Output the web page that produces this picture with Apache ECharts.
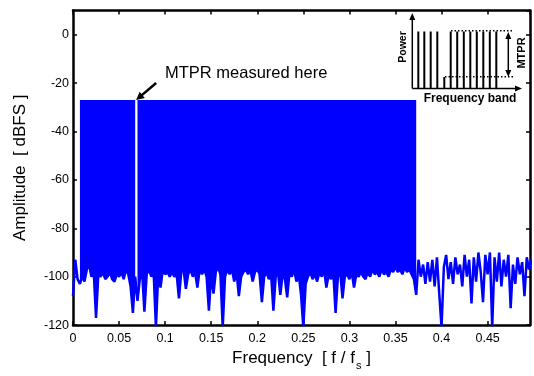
<!DOCTYPE html>
<html><head><meta charset="utf-8">
<script src="https://cdn.jsdelivr.net/npm/echarts@6/dist/echarts.min.js"></script>
<style>html,body{margin:0;padding:0;background:#fff}#c{width:534px;height:376px}</style>
</head><body><div id="c"></div>
<script>
// ---- data ----
const freqStep = 0.0025;              // frequency bin spacing [f/fs]
const floorDb = [
 -108, -93, -101, -103, -100, -102, -97, -95, -100, -98,
 -117, -99, -100, -98, -101, -100, -98, -101, -102, -99,
 -100, -98, -101, -97, -99, -104, -115, -100, -110, -101,
 -98, -114.5, -99, -97, -100, -98, -121, -99, -104.5, -97,
 -99, -98, -100, -98, -100, -99, -109, -98, -97, -105,
 -99, -97, -100, -98, -104.5, -97, -99, -97, -100, -114,
 -99, -107, -98, -96, -99, -121, -100, -97, -99, -97,
 -102, -98, -108, -100, -98, -97, -99, -97, -102, -98,
 -97, -99, -110.5, -100, -98, -101, -99, -114, -100, -98,
 -107.5, -99, -101, -108.5, -98, -100, -97, -102, -99, -107.5,
 -121, -103, -100, -98, -101, -99, -102, -98, -100, -97,
 -104.5, -99, -101, -98, -115, -100, -98, -109, -100, -99,
 -101, -98, -104.5, -99, -100, -98, -100, -101, -98, -100,
 -97, -99, -98, -100, -97, -99, -98, -100, -97, -98,
 -96, -98, -97, -99, -96, -98, -97, -99, -101, -107.5,
 -93, -100, -95, -103, -94, -102, -93, -104, -92, -107,
 -121, -96, -91, -101, -94, -103, -92, -99, -95, -104,
 -91, -100, -93, -111, -92, -102, -90, -98, -110.5, -91,
 -99, -90, -121, -92, -102, -90, -104, -93, -100, -91,
 -113, -95, -103, -92, -99, -94, -108, -92, -97, -93
];
const toneLevel = -27;                 // level of the multitone comb [dBFS]
const bandStart = 0.0075;              // first tone of the band
const bandEnd = 0.3725;                // last tone of the band
const gapFreq = 0.0685;                // empty tone slot where MTPR is measured
const xTickValues = [0, 0.05, 0.1, 0.15, 0.2, 0.25, 0.3, 0.35, 0.4, 0.45];
const xTickLabels = ['0', '0.05', '0.1', '0.15', '0.2', '0.25', '0.3', '0.35', '0.4', '0.45'];
const yTickValues = [-120, -100, -80, -60, -40, -20, 0];
const yTickLabels = ['-120', '-100', '-80', '-60', '-40', '-20', '0'];
const xMax = 0.496, yMax = 10;

// ---- build series ----
const floorFreq = floorDb.map((_, i) => +(i * freqStep).toFixed(5));
const floorData = floorFreq.map((f, i) => [f, floorDb[i]]);
// band segments (tones from floor up to toneLevel), split at the empty slot
const bandSegments = [[]];
floorFreq.forEach((f, i) => {
  if (f < bandStart - 1e-9 || f > bandEnd + 1e-9) return;
  const cur = bandSegments[bandSegments.length - 1];
  if (cur.length && cur[cur.length - 1][0] < gapFreq && f > gapFreq) bandSegments.push([]);
  bandSegments[bandSegments.length - 1].push([f, floorDb[i]]);
});

function lab(vals, labels) {
  return v => { const k = vals.findIndex(t => Math.abs(t - v) < 1e-9); return k >= 0 ? labels[k] : ''; };
}
const FONT = 'Liberation Sans, Arial, Helvetica, sans-serif';
const BLUE = '#0000ff';
const axLine = { show: true, onZero: false, lineStyle: { color: '#000', width: 2.5 } };
const axTick = { show: true, inside: true, length: 4, lineStyle: { color: '#000', width: 1.5 } };

const chart = echarts.init(document.getElementById('c'));
chart.setOption({
  animation: false,
  backgroundColor: '#fff',
  grid: { left: 73, right: 4, top: 10.5, bottom: 46.3, containLabel: false },
  xAxis: [{
    type: 'value', position: 'bottom', min: xTickValues[0], max: xMax,
    interval: xTickValues[1] - xTickValues[0],
    axisLine: axLine, axisTick: axTick, splitLine: { show: false },
    axisLabel: { color: '#000', fontSize: 12.5, fontFamily: FONT, margin: 7, showMaxLabel: false,
      formatter: lab(xTickValues, xTickLabels) },
    name: '{a|Frequency  [ f / f}{b|s}{a| ]}', nameLocation: 'middle', nameGap: 22,
    nameTextStyle: { color: '#000', fontFamily: FONT,
      rich: { a: { fontSize: 17, fontFamily: FONT, color: '#000', verticalAlign: 'top' },
              b: { fontSize: 11, fontFamily: FONT, color: '#000', verticalAlign: 'top', padding: [10, 0, 0, 1] } } }
  }, {
    type: 'value', position: 'top', min: xTickValues[0], max: xMax,
    interval: xTickValues[1] - xTickValues[0],
    axisLine: axLine, axisTick: axTick, splitLine: { show: false }, axisLabel: { show: false }
  }],
  yAxis: [{
    type: 'value', position: 'left', min: yTickValues[0], max: yMax,
    interval: yTickValues[1] - yTickValues[0],
    axisLine: axLine, axisTick: axTick, splitLine: { show: false },
    axisLabel: { color: '#000', fontSize: 12.5, fontFamily: FONT, margin: 4, showMaxLabel: false,
      formatter: lab(yTickValues, yTickLabels) },
    name: 'Amplitude  [ dBFS ]', nameLocation: 'middle', nameGap: 44,
    nameTextStyle: { color: '#000', fontSize: 17, fontFamily: FONT }
  }, {
    type: 'value', position: 'right', min: yTickValues[0], max: yMax,
    interval: yTickValues[1] - yTickValues[0],
    axisLine: axLine, axisTick: axTick, splitLine: { show: false }, axisLabel: { show: false }
  }],
  series: [{
    type: 'custom', name: 'tones', coordinateSystem: 'cartesian2d', clip: true, silent: true, z: 2,
    data: bandSegments.map((s, i) => [s[0][0], toneLevel, i]),
    encode: { x: 0, y: 1 },
    renderItem: (params, api) => {
      const seg = bandSegments[params.dataIndex];
      const top = seg.map(p => api.coord([p[0], toneLevel]));
      const bot = seg.slice().reverse().map(p => api.coord([p[0], p[1]]));
      return { type: 'polygon', shape: { points: top.concat(bot) }, style: { fill: BLUE, stroke: null } };
    }
  }, {
    type: 'line', name: 'spectrum', data: floorData, symbol: 'none',
    lineStyle: { color: BLUE, width: 2.5, join: 'bevel' }, silent: true, z: 3
  }]
});

// ---- annotation and inset ----
const tip = chart.convertToPixel({ xAxisIndex: 0, yAxisIndex: 0 }, [gapFreq, toneLevel]);
const tail = [tip[0] + 20, tip[1] - 17];
const ang = Math.atan2(tip[1] - tail[1], tip[0] - tail[0]);
function head(tx, ty, a, L, W) {
  const bx = tx - L * Math.cos(a), by = ty - L * Math.sin(a);
  return [[tx, ty], [bx + W * Math.sin(a), by - W * Math.cos(a)], [bx - W * Math.sin(a), by + W * Math.cos(a)]];
}
const k = '#000';
const els = [];
const ln = (x1, y1, x2, y2, w, dash) => els.push({ type: 'line', silent: true, z: 10,
  shape: { x1, y1, x2, y2 }, style: { stroke: k, lineWidth: w, lineDash: dash || null } });
const poly = pts => els.push({ type: 'polygon', silent: true, z: 10, shape: { points: pts }, style: { fill: k } });
// arrow to the MTPR slot
const hb = [tip[0] - 6 * Math.cos(ang), tip[1] - 6 * Math.sin(ang)];
ln(tail[0], tail[1], hb[0], hb[1], 2.5);
poly(head(tip[0], tip[1], ang, 8, 4));
els.push({ type: 'text', silent: true, z: 10, x: 165, y: 65,
  style: { text: 'MTPR measured here', fill: k, font: '16.5px ' + FONT, textAlign: 'left', textVerticalAlign: 'top' } });
// inset schematic
ln(412.3, 88.5, 412.3, 18, 1.5); poly(head(412.3, 13, -Math.PI / 2, 7, 3));
ln(412.3, 88.5, 516, 88.5, 1.5); poly(head(522, 88.5, 0, 7, 3));
[418.3, 424.3, 430.7, 437.3].forEach(x => ln(x, 88.5, x, 31.5, 2));
ln(444.3, 88.5, 444.3, 77, 2);
[450.7, 457.2, 463.8, 470.3, 476.8, 483.3, 489.8, 496.3].forEach(x => ln(x, 88.5, x, 31.5, 2));
ln(451, 30.7, 514, 30.7, 1.5, [1.5, 2]);
ln(445, 76.7, 515, 76.7, 1.5, [1.5, 2]);
ln(508.3, 37, 508.3, 72, 1.5);
poly(head(508.3, 32, -Math.PI / 2, 7, 3));
poly(head(508.3, 77, Math.PI / 2, 7, 3));
els.push({ type: 'text', silent: true, z: 10, x: 403.5, y: 47, rotation: Math.PI / 2,
  style: { text: 'Power', fill: k, font: 'bold 10.5px ' + FONT, textAlign: 'center', textVerticalAlign: 'middle' } });
els.push({ type: 'text', silent: true, z: 10, x: 522, y: 53, rotation: Math.PI / 2,
  style: { text: 'MTPR', fill: k, font: 'bold 11px ' + FONT, textAlign: 'center', textVerticalAlign: 'middle' } });
els.push({ type: 'text', silent: true, z: 10, x: 470, y: 99,
  style: { text: 'Frequency band', fill: k, font: 'bold 12px ' + FONT, textAlign: 'center', textVerticalAlign: 'middle' } });
chart.setOption({ graphic: { elements: els } });
</script>
</body></html>
